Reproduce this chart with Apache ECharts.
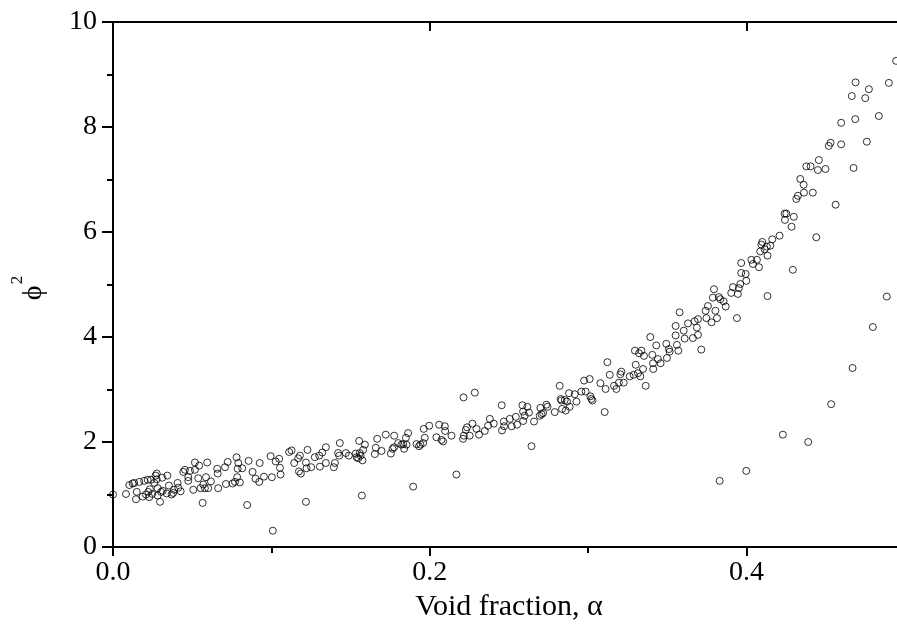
<!DOCTYPE html>
<html>
<head>
<meta charset="utf-8">
<script src="https://cdn.jsdelivr.net/npm/echarts@6/dist/echarts.min.js"></script>
<style>html,body{margin:0;padding:0;background:#fff}#c{width:897px;height:629px}</style>
</head>
<body>
<div id="c"></div>
<script>
// Void fraction (x) values
const alpha = [
0.0000,0.0082,0.0103,0.0124,0.0134,0.0145,0.0150,0.0166,0.0187,0.0197,
0.0208,0.0219,0.0223,0.0229,0.0233,0.0240,0.0248,0.0261,0.0269,0.0276,
0.0276,0.0282,0.0282,0.0297,0.0303,0.0311,0.0314,0.0339,0.0343,0.0353,
0.0370,0.0380,0.0385,0.0408,0.0412,0.0427,0.0444,0.0454,0.0475,0.0475,
0.0486,0.0507,0.0517,0.0517,0.0538,0.0544,0.0553,0.0566,0.0570,0.0580,
0.0587,0.0595,0.0601,0.0618,0.0658,0.0661,0.0664,0.0707,0.0713,0.0724,
0.0755,0.0770,0.0780,0.0784,0.0787,0.0791,0.0801,0.0816,0.0847,0.0856,
0.0881,0.0900,0.0923,0.0926,0.0953,0.0995,0.1003,0.1009,0.1027,0.1049,
0.1054,0.1058,0.1112,0.1127,0.1144,0.1169,0.1174,0.1180,0.1186,0.1218,
0.1222,0.1228,0.1251,0.1274,0.1302,0.1306,0.1321,0.1344,0.1344,0.1394,
0.1401,0.1421,0.1428,0.1432,0.1470,0.1489,0.1533,0.1538,0.1548,0.1554,
0.1558,0.1563,0.1571,0.1575,0.1579,0.1590,0.1653,0.1659,0.1668,0.1695,
0.1722,0.1754,0.1765,0.1775,0.1775,0.1800,0.1821,0.1832,0.1838,0.1849,
0.1853,0.1863,0.1895,0.1916,0.1932,0.1941,0.1958,0.1962,0.1968,0.1996,
0.2042,0.2059,0.2074,0.2084,0.2095,0.2097,0.2137,0.2168,0.2213,0.2210,
0.2215,0.2227,0.2235,0.2252,0.2269,0.2284,0.2295,0.2311,0.2347,0.2368,
0.2379,0.2404,0.2454,0.2456,0.2467,0.2469,0.2505,0.2517,0.2543,0.2551,
0.2585,0.2589,0.2589,0.2599,0.2616,0.2626,0.2642,0.2658,0.2694,0.2698,
0.2705,0.2715,0.2736,0.2743,0.2789,0.2820,0.2826,0.2831,0.2835,0.2852,
0.2858,0.2866,0.2879,0.2883,0.2915,0.2926,0.2957,0.2974,0.2984,0.3009,
0.3014,0.3020,0.3027,0.3077,0.3104,0.3110,0.3121,0.3136,0.3163,0.3178,
0.3194,0.3203,0.3209,0.3224,0.3262,0.3287,0.3295,0.3300,0.3314,0.3321,
0.3329,0.3336,0.3346,0.3352,0.3363,0.3392,0.3405,0.3409,0.3411,0.3430,
0.3440,0.3457,0.3493,0.3497,0.3510,0.3514,0.3552,0.3552,0.3560,0.3569,
0.3577,0.3603,0.3609,0.3630,0.3661,0.3672,0.3686,0.3693,0.3693,0.3714,
0.3741,0.3746,0.3756,0.3779,0.3787,0.3794,0.3803,0.3813,0.3825,0.3830,
0.3834,0.3855,0.3868,0.3903,0.3914,0.3939,0.3945,0.3951,0.3960,0.3998,
0.3998,0.4132,0.4229,0.4389,0.4534,0.4669,0.4797,0.4885,0.3966,0.3994,
0.3966,0.4030,0.4040,0.4065,0.4078,0.4086,0.4093,0.4099,0.4114,0.4128,
0.4132,0.4150,0.4162,0.4208,0.4240,0.4251,0.4242,0.4284,0.4298,0.4292,
0.4314,0.4324,0.4339,0.4360,0.4362,0.4377,0.4404,0.4418,0.4440,0.4450,
0.4456,0.4498,0.4519,0.4530,0.4562,0.4597,0.4597,0.4675,0.4664,0.4686,
0.4688,0.4749,0.4759,0.4772,0.4835,0.4898,0.4944,0.1218
];
// Two-phase multiplier (y) values
const phi2 = [
1.00,1.01,1.18,1.21,1.22,0.91,1.05,1.24,0.96,1.26,
1.00,1.28,1.05,0.95,1.10,1.28,1.01,1.22,1.36,1.40,
1.29,1.12,0.98,0.86,1.05,1.32,1.07,1.02,1.36,1.17,
1.00,1.03,1.09,1.22,1.13,1.06,1.43,1.47,1.33,1.26,
1.45,1.09,1.61,1.47,1.31,1.55,1.12,0.84,1.19,1.12,
1.33,1.61,1.12,1.25,1.49,1.40,1.12,1.52,1.20,1.62,
1.21,1.24,1.71,1.33,1.49,1.60,1.23,1.50,0.80,1.64,
1.43,1.30,1.24,1.60,1.34,1.73,1.33,0.31,1.63,1.68,
1.51,1.38,1.81,1.84,1.60,1.69,1.44,1.74,1.40,1.61,
1.50,1.85,1.52,1.71,1.74,1.53,1.80,1.90,1.60,1.52,
1.60,1.79,1.74,1.98,1.79,1.74,1.78,1.71,1.69,2.02,
1.79,1.74,0.98,1.65,1.85,1.95,1.77,1.89,2.06,1.83,
2.14,1.78,1.87,2.12,1.90,1.98,1.95,1.96,1.87,2.08,
1.95,2.17,1.15,1.96,1.92,1.95,1.98,2.25,2.08,2.31,
2.09,2.33,2.04,2.01,2.30,2.21,2.12,1.38,2.85,2.06,
2.12,2.23,2.28,2.12,2.35,2.94,2.25,2.14,2.21,2.31,
2.44,2.35,2.70,2.22,2.39,2.30,2.44,2.30,2.48,2.33,
2.70,2.58,2.40,2.50,2.67,2.56,1.92,2.39,2.50,2.65,
2.53,2.55,2.71,2.67,2.57,3.07,2.82,2.79,2.63,2.80,
2.60,2.77,2.93,2.67,2.91,2.77,2.96,3.17,2.96,3.20,
2.87,2.82,2.79,3.12,2.57,3.01,3.52,3.28,3.07,3.01,
3.13,3.29,3.34,3.13,3.25,3.28,3.74,3.47,3.31,3.69,
3.25,3.74,3.39,3.64,3.07,4.00,3.66,3.50,3.39,3.84,
3.58,3.50,3.87,3.60,3.77,3.72,4.21,4.03,3.85,3.74,
4.47,4.12,3.97,4.26,3.98,4.30,4.18,4.34,4.04,3.76,
4.50,4.36,4.59,4.28,4.75,4.91,4.50,4.36,4.76,1.26,
4.72,4.68,4.58,4.84,4.95,4.36,4.82,4.93,5.01,5.07,
1.45,4.78,2.14,2.00,2.72,3.41,4.19,4.77,5.22,5.20,
5.41,5.47,5.39,5.47,5.33,5.63,5.76,5.81,5.67,5.72,
5.55,5.74,5.86,5.93,6.35,6.35,6.23,6.10,6.29,5.28,
6.63,6.69,7.01,6.90,6.75,7.25,7.25,6.75,5.90,7.18,
7.37,7.20,7.64,7.70,6.52,8.08,7.67,7.22,8.59,8.15,
8.85,8.55,7.72,8.72,8.21,8.84,9.26,0.86
];
const xMin = 0, xMax = 0.5, xMajor = 0.2, xMinor = 0.1;
const yMin = 0, yMax = 10, yMajor = 2;
const xTitle = 'Void fraction, α';
const yTitleMain = 'ϕ';
const yTitleSup = '2';

const FONT = '"Liberation Serif","Times New Roman",serif';
const points = alpha.map((a, i) => [a, phi2[i]]);
const black = '#000';
const isMajorX = v => Math.abs(v / xMajor - Math.round(v / xMajor)) < 1e-6;

const chart = echarts.init(document.getElementById('c'), null, {renderer: 'canvas'});
chart.setOption({
  animation: false,
  backgroundColor: '#fff',
  grid: {left: 113, top: 22, right: -8, bottom: 82, containLabel: false, outerBoundsMode: 'none'},
  xAxis: [
    {
      type: 'value', position: 'bottom', min: xMin, max: xMax, interval: xMajor,
      axisLine: {show: true, lineStyle: {color: black, width: 2}},
      axisTick: {show: true, inside: false, length: 9, lineStyle: {color: black, width: 2}},
      axisLabel: {color: black, fontFamily: FONT, fontSize: 28, margin: 12,
        formatter: v => isMajorX(v) ? v.toFixed(1) : ''},
      splitLine: {show: false},
      name: xTitle, nameLocation: 'middle', nameGap: 44,
      nameTextStyle: {color: black, fontFamily: FONT, fontSize: 30}
    },
    {
      type: 'value', position: 'bottom', min: xMin, max: xMax, interval: xMinor,
      axisLine: {show: false},
      axisTick: {show: true, inside: false, length: 6, lineStyle: {color: black, width: 2}},
      axisLabel: {show: false}, splitLine: {show: false}
    },
    {
      type: 'value', position: 'top', min: xMin, max: xMax, interval: xMajor,
      axisLine: {show: true, lineStyle: {color: black, width: 2}},
      axisTick: {show: true, inside: true, length: 9, lineStyle: {color: black, width: 2}},
      axisLabel: {show: false}, splitLine: {show: false}
    }
  ],
  yAxis: [
    {
      type: 'value', position: 'left', min: yMin, max: yMax, interval: yMajor,
      axisLine: {show: true, lineStyle: {color: black, width: 2}},
      axisTick: {show: true, inside: false, length: 9, lineStyle: {color: black, width: 2}},
      minorTick: {show: true, splitNumber: 2, length: 6, lineStyle: {color: black, width: 2}},
      axisLabel: {color: black, fontFamily: FONT, fontSize: 28, margin: 16},
      splitLine: {show: false}, minorSplitLine: {show: false}
    },
    {
      type: 'value', position: 'right', min: yMin, max: yMax, interval: yMajor,
      axisLine: {show: true, lineStyle: {color: black, width: 2}},
      axisTick: {show: true, inside: true, length: 11, lineStyle: {color: black, width: 2}},
      axisLabel: {show: false}, splitLine: {show: false}
    }
  ],
  graphic: [
    {type: 'text', x: 34, y: 293, rotation: Math.PI / 2,
      style: {text: yTitleMain, fill: black, font: '28px ' + FONT, textAlign: 'center', textVerticalAlign: 'middle', align: 'center', verticalAlign: 'middle'}},
    {type: 'text', x: 18, y: 280, rotation: Math.PI / 2,
      style: {text: yTitleSup, fill: black, font: '17px ' + FONT, textAlign: 'center', textVerticalAlign: 'middle', align: 'center', verticalAlign: 'middle'}}
  ],
  series: [{
    type: 'scatter', xAxisIndex: 0, yAxisIndex: 0,
    data: points, symbol: 'circle', symbolSize: 7,
    itemStyle: {color: 'rgba(255,255,255,0)', borderColor: black, borderWidth: 1},
    emphasis: {disabled: true}, clip: false
  }]
});
</script>
</body>
</html>
